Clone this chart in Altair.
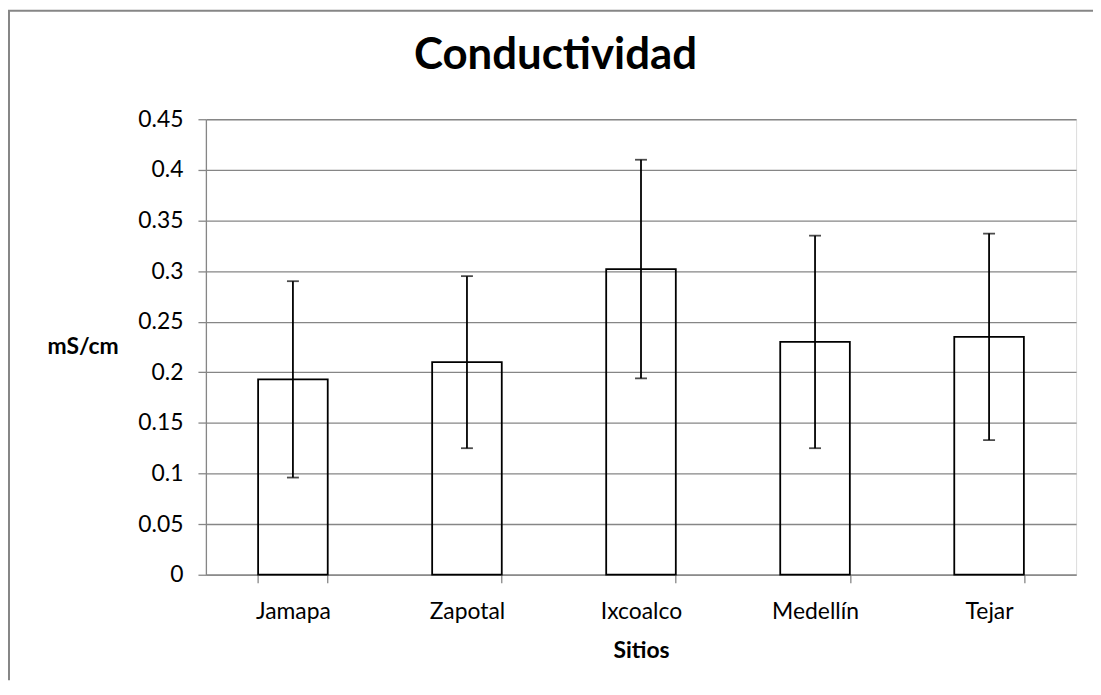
import altair as alt
import pandas as pd

sitios = ["Jamapa", "Zapotal", "Ixcoalco", "Medellín", "Tejar"]
media = [0.193, 0.210, 0.302, 0.230, 0.235]
error = [0.097, 0.085, 0.108, 0.105, 0.102]
y_ticks = [0, 0.05, 0.1, 0.15, 0.2, 0.25, 0.3, 0.35, 0.4, 0.45]

df = pd.DataFrame({"sitio": sitios, "media": media, "error": error})
df["low"] = df["media"] - df["error"]
df["high"] = df["media"] + df["error"]

FONT = "Lato"
GRAY = "#868686"
W, H = 875, 458
PAD_R, PAD_B = 17, 106

x_enc = alt.X(
    "sitio:N",
    sort=sitios,
    scale=alt.Scale(paddingInner=0.6, paddingOuter=0.3),
    axis=alt.Axis(
        title="Sitios",
        labelAngle=0,
        tickBand="extent",
        tickSize=8,
        tickColor=GRAY,
        tickWidth=1.3,
        domainColor=GRAY,
        domainWidth=1.3,
        labelFont=FONT,
        labelFontSize=23,
        labelColor="black",
        labelPadding=18,
        titleFont=FONT,
        titleFontSize=23,
        titleFontWeight="bold",
        titleColor="black",
        titleBaseline="alphabetic",
        titleY=83,
        titleX=W / 2,
        titleAlign="center",
        grid=False,
    ),
)
y_scale = alt.Scale(domain=[0, 0.45], nice=False)
y_axis = alt.Axis(
    title="mS/cm",
    values=y_ticks,
    format="~g",
    grid=True,
    gridColor=GRAY,
    gridWidth=1.3,
    tickSize=8,
    tickColor=GRAY,
    tickWidth=1.3,
    domainColor=GRAY,
    domainWidth=1.3,
    labelFont=FONT,
    labelFontSize=23,
    labelColor="black",
    labelPadding=15,
    titleFont=FONT,
    titleFontSize=23,
    titleFontWeight="bold",
    titleColor="black",
    titleAngle=0,
    titleAlign="center",
    titleBaseline="middle",
    titleX=-124,
    titleY=H / 2,
)

base = alt.Chart(df)

bars = base.mark_bar(fill="white", fillOpacity=0, stroke="black", strokeWidth=1.8).encode(
    x=x_enc, y=alt.Y("media:Q", scale=y_scale, axis=y_axis)
)
rules = base.mark_rule(color="black", strokeWidth=1.8).encode(
    x=alt.X("sitio:N", sort=sitios), y="low:Q", y2="high:Q"
)
cap_hi = base.mark_tick(color="black", thickness=1.8, size=12).encode(
    x=alt.X("sitio:N", sort=sitios), y="high:Q"
)
cap_lo = base.mark_tick(color="black", thickness=1.8, size=12).encode(
    x=alt.X("sitio:N", sort=sitios), y="low:Q"
)

frame_df = pd.DataFrame({"k": [0]})
frame_left = alt.Chart(frame_df).mark_rule(color=GRAY, strokeWidth=2).encode(
    x=alt.value(-198), y=alt.value(-109), y2=alt.value(H + PAD_B)
)
frame_top = alt.Chart(frame_df).mark_rule(color=GRAY, strokeWidth=2).encode(
    y=alt.value(-109), x=alt.value(-199), x2=alt.value(W + PAD_R)
)

chart = (
    alt.layer(bars, rules, cap_hi, cap_lo, frame_left, frame_top)
    .properties(
        width=W,
        height=H,
        title=alt.TitleParams(
            "Conductividad",
            font=FONT,
            fontSize=44,
            fontWeight="bold",
            color="black",
            anchor="middle",
            baseline="alphabetic",
            offset=0,
            dy=103,
            dx=-86,
        ),
        autosize=alt.AutoSizeParams(type="none"),
        padding={"left": 199, "top": 110, "right": PAD_R, "bottom": PAD_B},
    )
    .configure_view(stroke=None)
    .configure(background="white")
)

chart.save("out.html", embed_options={"renderer": "svg", "actions": False})
